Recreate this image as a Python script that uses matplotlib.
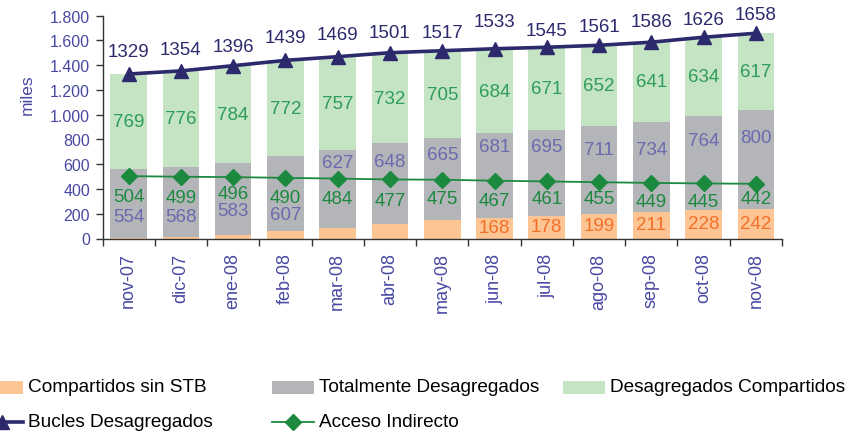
import matplotlib
matplotlib.use("Agg")
import matplotlib.pyplot as plt
from matplotlib.patches import Rectangle
from matplotlib.lines import Line2D
import numpy as np

# ---------------- data ----------------
months = ["nov-07", "dic-07", "ene-08", "feb-08", "mar-08", "abr-08", "may-08",
          "jun-08", "jul-08", "ago-08", "sep-08", "oct-08", "nov-08"]
compartidos_sin_stb = [6, 10, 29, 60, 85, 121, 147, 168, 178, 199, 211, 228, 242]
totalmente_desag = [554, 568, 583, 607, 627, 648, 665, 681, 695, 711, 734, 764, 800]
desag_compartidos = [769, 776, 784, 772, 757, 732, 705, 684, 671, 652, 641, 634, 617]
bucles_desag = [1329, 1354, 1396, 1439, 1469, 1501, 1517, 1533, 1545, 1561, 1586, 1626, 1658]
acceso_indirecto = [504, 499, 496, 490, 484, 477, 475, 467, 461, 455, 449, 445, 442]
orange_labelled_from = 7  # labels for Compartidos sin STB shown from jun-08

# label positions (in data units, as placed in the original chart)
gray_label_y = [178, 178, 223, 190, 613, 621, 675, 747, 747, 715, 715, 788, 815]
acceso_label_y = [339, 331, 366, 330, 323, 304, 323, 304, 323, 323, 296, 296, 323]
total_label_y = [1514, 1528, 1555, 1622, 1649, 1663, 1663, 1757, 1684, 1711, 1757, 1770, 1811]

# ---------------- style ----------------
C_ORANGE = "#FDC593"
C_GRAY = "#B4B5B9"
C_LGREEN = "#C4E4C3"
C_NAVY = "#2C2A6C"
C_GREEN = "#1B8A3F"
C_TICK = "#4848A2"
C_GRAYLBL = "#6A6AAE"
C_GREENLBL = "#2E9C5C"
C_ORANGELBL = "#F2702A"

SANS = ["Liberation Sans", "DejaVu Sans"]
NARROW = ["Liberation Sans Narrow", "Liberation Sans", "DejaVu Sans"]
plt.rcParams["font.family"] = SANS

W, H = 861, 435
fig = plt.figure(figsize=(W / 100, H / 100), dpi=100)
left, right = 102.5 / W, 782 / W
bottom, top = 1 - 239.5 / H, 1 - 16.7 / H
ax = fig.add_axes([left, bottom, right - left, top - bottom])

x = np.arange(len(months))
bw = 0.70
o = np.array(compartidos_sin_stb)
g = np.array(totalmente_desag)
lg = np.array(desag_compartidos)
ax.bar(x, o, bw, color=C_ORANGE, zorder=2)
ax.bar(x, g, bw, bottom=o, color=C_GRAY, zorder=2)
ax.bar(x, lg, bw, bottom=o + g, color=C_LGREEN, zorder=2)

ax.plot(x, bucles_desag, color=C_NAVY, lw=2.6, marker="^", ms=10.5, zorder=4,
        clip_on=False)
ax.plot(x, acceso_indirecto, color=C_GREEN, lw=1.3, marker="D", ms=8, zorder=4)

FS = 13.5
for i in range(len(months)):
    ax.text(x[i], o[i] + g[i] + lg[i] / 2, str(lg[i]), ha="center", va="center",
            color=C_GREENLBL, fontsize=FS, family=NARROW, zorder=5)
    ax.text(x[i], gray_label_y[i], str(g[i]), ha="center", va="center",
            color=C_GRAYLBL, fontsize=FS, family=NARROW, zorder=5)
    ax.text(x[i], acceso_label_y[i], str(acceso_indirecto[i]), ha="center",
            va="center", color=C_GREEN, fontsize=FS, family=NARROW, zorder=5)
    ax.text(x[i], total_label_y[i], str(bucles_desag[i]), ha="center",
            va="center", color=C_NAVY, fontsize=FS, family=NARROW, zorder=5,
            clip_on=False)
    if i >= orange_labelled_from:
        ax.text(x[i], o[i] / 2 + 4, str(o[i]), ha="center", va="center",
                color=C_ORANGELBL, fontsize=FS, family=NARROW, zorder=5)

ax.set_xlim(-0.5, len(months) - 0.5)
ax.set_ylim(0, 1800)
yt = np.arange(0, 1801, 200)
ax.set_yticks(yt)
ax.set_yticklabels([f"{v:,}".replace(",", ".") for v in yt])
ax.set_xticks(np.arange(-0.5, len(months), 1.0))
ax.set_xticklabels([])
ax.set_xticks(x, minor=True)
ax.set_xticklabels(months, minor=True, rotation=90)
ax.tick_params(axis="x", which="major", length=5, width=1, color="#333333",
               direction="out")
ax.tick_params(axis="x", which="minor", length=0, pad=10, labelsize=13,
               labelcolor=C_TICK)
ax.tick_params(axis="y", length=5, width=1, color="#333333", direction="out",
               labelsize=11.5, labelcolor=C_TICK, pad=4)
for s in ["top", "right"]:
    ax.spines[s].set_visible(False)
for s in ["left", "bottom"]:
    ax.spines[s].set_color("#333333")
    ax.spines[s].set_linewidth(1)

fig.text(27 / W, 1 - 95 / H, "miles", rotation=90, ha="center", va="center",
         color=C_TICK, fontsize=12.5)

# ---------------- legend (manual) ----------------
LFS = 13.7
def fx(px):
    return px / W
def fy(py):
    return 1 - py / H

row1, row2 = 388, 423
patch_w, patch_h = 42, 13
for px0, col, txt in [(-19, C_ORANGE, "Compartidos sin STB"),
                      (272, C_GRAY, "Totalmente Desagregados"),
                      (563, C_LGREEN, "Desagregados Compartidos")]:
    fig.add_artist(Rectangle((fx(px0), fy(row1 + patch_h / 2)), patch_w / W,
                             patch_h / H, transform=fig.transFigure,
                             color=col, lw=0))
    fig.text(fx(px0 + patch_w + 5), fy(row1), txt, ha="left", va="center",
             fontsize=LFS, color="black")

for px0, col, lw, mk, ms, txt in [(-19, C_NAVY, 2.6, "^", 10.5, "Bucles Desagregados"),
                                  (272, C_GREEN, 1.3, "D", 8, "Acceso Indirecto")]:
    fig.add_artist(Line2D([fx(px0), fx(px0 + patch_w)], [fy(row2), fy(row2)],
                          transform=fig.transFigure, color=col, lw=lw))
    fig.add_artist(Line2D([fx(px0 + patch_w / 2)], [fy(row2)],
                          transform=fig.transFigure, color=col, marker=mk,
                          ms=ms, lw=0))
    fig.text(fx(px0 + patch_w + 5), fy(row2), txt, ha="left", va="center",
             fontsize=LFS, color="black")

fig.savefig("out.png", dpi=100)
